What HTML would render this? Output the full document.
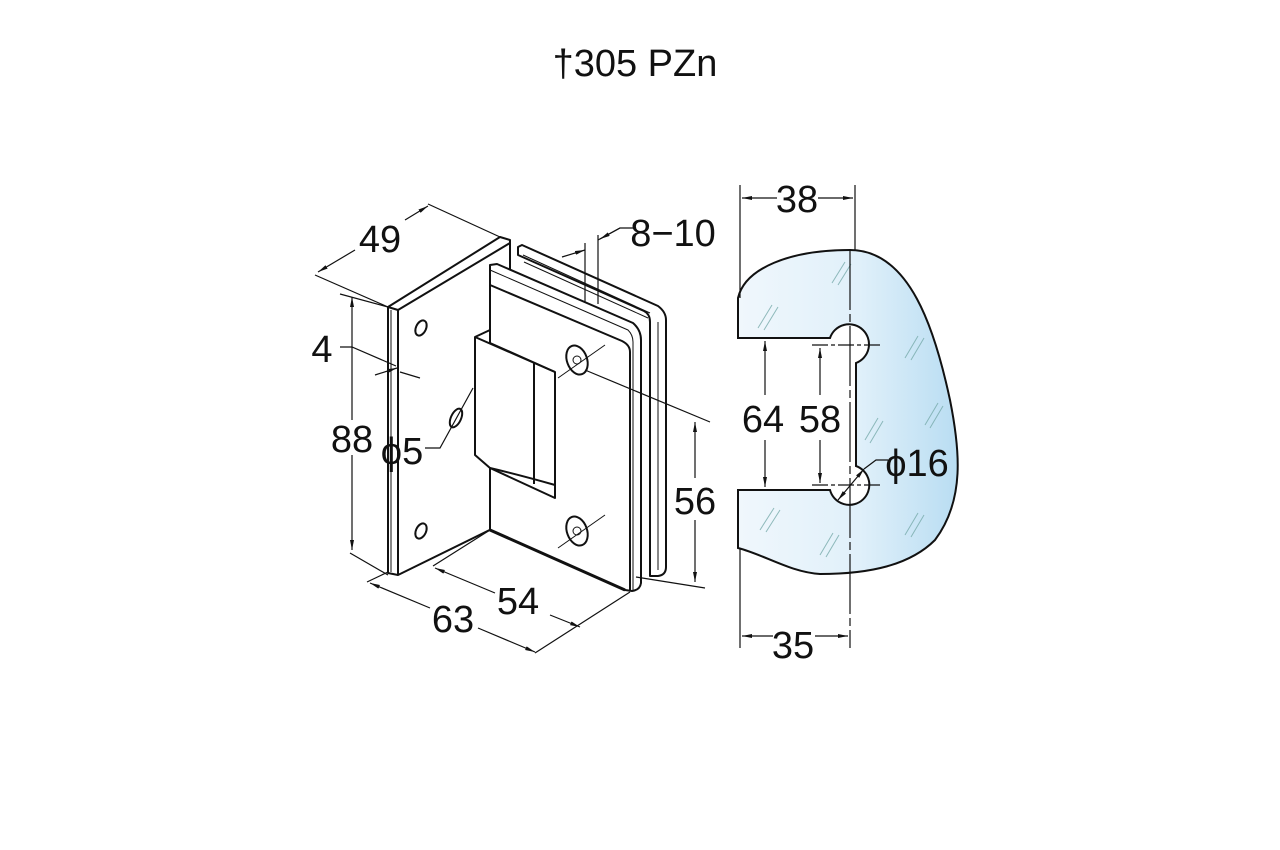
<!DOCTYPE html>
<html><head><meta charset="utf-8"><style>
html,body{margin:0;padding:0;background:#fff;}
svg{display:block}
text{font-family:"Liberation Sans Narrow","Liberation Sans",sans-serif;font-size:38px;fill:#111;text-anchor:middle}
</style></head><body>
<svg width="1280" height="850" viewBox="0 0 1280 850" xmlns="http://www.w3.org/2000/svg">
<defs>
<linearGradient id="g" x1="0" y1="0" x2="1" y2="0">
<stop offset="0" stop-color="#f0f7fc"/><stop offset="0.55" stop-color="#e0f0fa"/><stop offset="1" stop-color="#b9ddf2"/>
</linearGradient>
<marker id="a" viewBox="0 0 10 4" refX="10" refY="2" markerWidth="10" markerHeight="4" orient="auto-start-reverse" markerUnits="userSpaceOnUse"><path d="M0,0 L10,2 L0,4z" fill="#111"/></marker>
</defs>
<text x="635" y="76" font-size="35">†305 PZn</text>

<!-- glass profile -->
<path d="M738,298 C745,268 790,250 850,250 C910,250 935,330 950,400 C960,450 965,500 935,540 C910,565 870,574 820,574 C790,572 765,555 738,548 L738,490 L830,490 A20,20 0 1 0 856,466 L856,363 A20,20 0 1 0 830,338 L738,338 Z" fill="url(#g)" stroke="#111" stroke-width="2"/>
<g stroke="#7aa" stroke-width="1" fill="none" opacity="0.8">
<path d="M832,283 L845,262 M838,285 L851,264 M758,328 L772,305 M764,330 L778,307 M905,358 L918,336 M911,360 L924,338 M925,425 L938,403 M930,428 L943,406 M865,440 L878,418 M870,443 L883,421 M760,530 L774,508 M766,532 L780,510 M820,555 L833,533 M826,557 L839,535 M905,535 L918,513 M911,537 L924,515"/>
</g>
<g stroke="#111" stroke-width="1.2" fill="none">
<line x1="740" y1="185" x2="740" y2="298"/><line x1="855" y1="185" x2="855" y2="250"/>
<line x1="850" y1="250" x2="850" y2="648" stroke-dasharray="60 4 8 4"/>
<line x1="740" y1="548" x2="740" y2="648"/>
<line x1="742" y1="198" x2="777" y2="198" marker-start="url(#a)"/><line x1="818" y1="198" x2="853" y2="198" marker-end="url(#a)"/>
<line x1="742" y1="636" x2="773" y2="636" marker-start="url(#a)"/><line x1="815" y1="636" x2="848" y2="636" marker-end="url(#a)"/>
<line x1="765" y1="341" x2="765" y2="395" marker-start="url(#a)"/><line x1="765" y1="440" x2="765" y2="487" marker-end="url(#a)"/>
<line x1="820" y1="348" x2="820" y2="395" marker-start="url(#a)"/><line x1="820" y1="440" x2="820" y2="483" marker-end="url(#a)"/>
<line x1="812" y1="345" x2="880" y2="345" stroke-dasharray="16 3 4 3"/>
<line x1="812" y1="485" x2="880" y2="485" stroke-dasharray="16 3 4 3"/>
<line x1="838" y1="500" x2="864" y2="469" marker-start="url(#a)" marker-end="url(#a)"/>
<polyline points="864,469 876,460 888,460"/>
</g>
<text x="797" y="212">38</text>
<text x="793" y="658">35</text>
<text x="763" y="432">64</text>
<text x="820" y="432">58</text>
<text x="917" y="476">ϕ16</text>

<!-- hinge -->
<g stroke="#111" stroke-width="2" fill="#fff" stroke-linejoin="round">
<path d="M518,247 L522,245 L658,306 Q666,312 666,320 L666,567 Q666,575 658,576 L650,576 L650,322 Q650,314 644,311 L518,255 Z"/>
<path d="M523,255 L650,313 M524,262 L648,318" fill="none" stroke-width="1"/>
<line x1="658" y1="322" x2="658" y2="570" stroke-width="1"/>
<path d="M388,307 L500,237 L510,240 L510,520 L398,575 L388,573 Z"/>
<path d="M398,310 L510,243 M398,310 L398,575 M388,307 L398,310" fill="none"/>
<line x1="391" y1="310" x2="391" y2="572" stroke-width="1"/>
<path d="M490,265 L497,264 L633,323 Q641,330 641,340 L641,583 Q640,590 632,591 L625,590 L490,530 Z"/>
<path d="M490,285 L622,341 Q630,345 630,352 L630,590" fill="none"/>
<path d="M490,270 L628,330 Q633,335 633,342 L633,590" fill="none" stroke-width="1"/>
<line x1="490" y1="530" x2="625" y2="590" stroke-width="3"/>
<path d="M475,337 L490,330 L490,343 L555,372 L555,498 L490,468 L475,455 Z"/>
<path d="M475,337 L555,372 M534,363 L534,484 M490,468 Q520,475 555,485" fill="none"/>
<ellipse cx="577" cy="360" rx="10" ry="15" transform="rotate(-20 577 360)"/>
<ellipse cx="577" cy="531" rx="10" ry="15" transform="rotate(-20 577 531)"/>
<circle cx="577" cy="360" r="4" stroke-width="1"/><circle cx="577" cy="531" r="4" stroke-width="1"/>
<ellipse cx="421" cy="328" rx="5" ry="8" transform="rotate(25 421 328)"/>
<ellipse cx="421" cy="531" rx="5" ry="8" transform="rotate(25 421 531)"/>
<ellipse cx="456" cy="418" rx="5" ry="10" transform="rotate(25 456 418)"/>
</g>
<g stroke="#111" stroke-width="1.2" fill="none">
<line x1="315" y1="275" x2="388" y2="307"/><line x1="428" y1="204" x2="500" y2="237"/>
<line x1="318" y1="272" x2="355" y2="250" marker-start="url(#a)"/><line x1="405" y1="220" x2="428" y2="206" marker-end="url(#a)"/>
<line x1="340" y1="294" x2="388" y2="307"/>
<line x1="352" y1="297" x2="352" y2="420" marker-start="url(#a)"/><line x1="352" y1="455" x2="352" y2="550" marker-end="url(#a)"/>
<line x1="350" y1="553" x2="388" y2="575"/>
<polyline points="340,347 352,347 396,366"/><line x1="400" y1="372" x2="420" y2="378"/>
<line x1="375" y1="375" x2="397" y2="368" marker-end="url(#a)"/>
<polyline points="425,448 440,448 473,388"/>
<line x1="367" y1="582" x2="388" y2="572"/>
<line x1="370" y1="583" x2="430" y2="608" marker-start="url(#a)"/><line x1="478" y1="628" x2="535" y2="652" marker-end="url(#a)"/>
<line x1="433" y1="566" x2="490" y2="530"/>
<line x1="435" y1="568" x2="495" y2="593" marker-start="url(#a)"/><line x1="550" y1="615" x2="580" y2="627" marker-end="url(#a)"/>
<line x1="535" y1="653" x2="630" y2="592"/>
<line x1="585" y1="370" x2="710" y2="422"/><line x1="636" y1="577" x2="705" y2="588"/>
<line x1="695" y1="422" x2="695" y2="478" marker-start="url(#a)"/><line x1="695" y1="520" x2="695" y2="582" marker-end="url(#a)"/>
<line x1="585" y1="243" x2="585" y2="302"/><line x1="598" y1="235" x2="598" y2="304"/>
<line x1="562" y1="257" x2="585" y2="250" marker-end="url(#a)"/>
<polyline points="598,240 620,228 635,228"/>
<line x1="620" y1="228" x2="600" y2="239" marker-end="url(#a)"/>
<line x1="558" y1="378" x2="605" y2="345" stroke-width="1"/><line x1="558" y1="548" x2="605" y2="515" stroke-width="1"/>
</g>
<text x="380" y="252">49</text>
<text x="322" y="362">4</text>
<text x="352" y="452">88</text>
<text x="402" y="464">ϕ5</text>
<text x="453" y="632">63</text>
<text x="518" y="614">54</text>
<text x="695" y="514">56</text>
<text x="673" y="246">8−10</text>
</svg>
</body></html>
